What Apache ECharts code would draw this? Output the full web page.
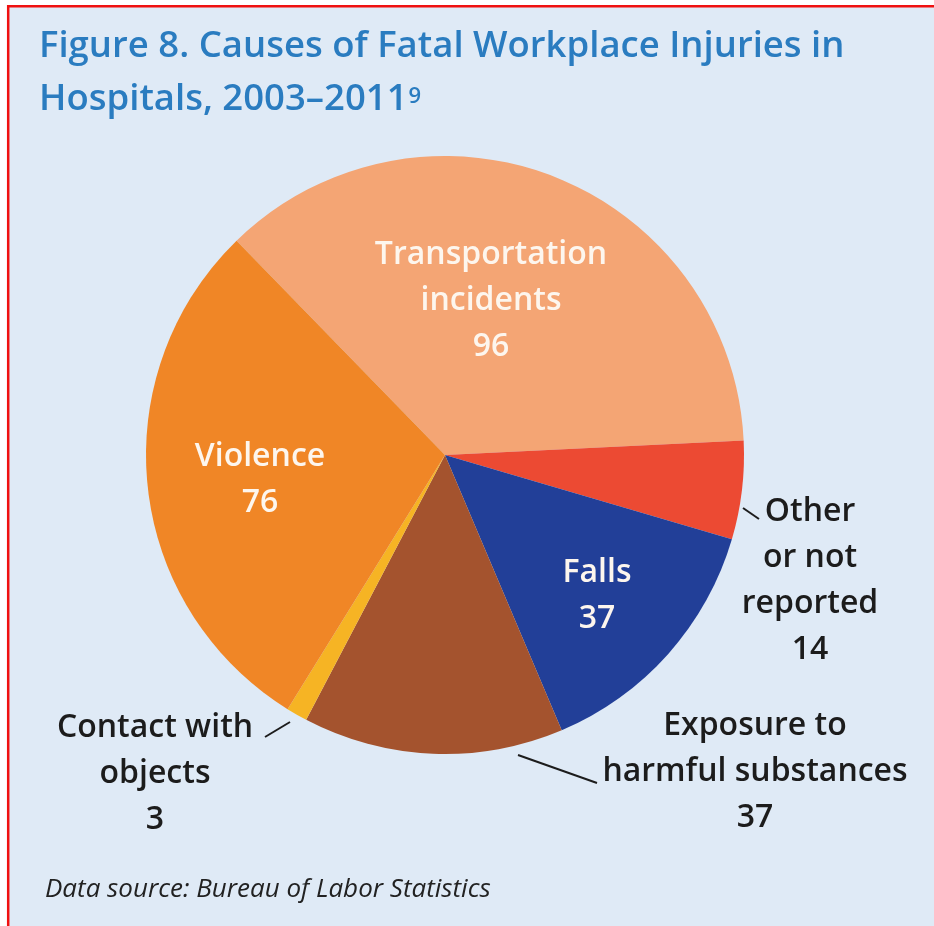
<!DOCTYPE html>
<html>
<head>
<meta charset="utf-8">
<script src="https://cdn.jsdelivr.net/npm/echarts@6/dist/echarts.min.js"></script>
<style>
  html, body { margin: 0; padding: 0; background: #ffffff; }
  #chart { width: 934px; height: 926px; }
</style>
</head>
<body>
<div id="chart"></div>
<script>
// Fatal workplace injuries in hospitals, 2003–2011, by cause (clockwise order)
const causes = [
  'Transportation incidents',
  'Other or not reported',
  'Falls',
  'Exposure to harmful substances',
  'Contact with objects',
  'Violence'
];
const fatalities = [96, 14, 37, 37, 3, 76];
const labelText = [
  'Transportation\nincidents',
  'Other\nor not\nreported',
  'Falls',
  'Exposure to\nharmful substances',
  'Contact with\nobjects',
  'Violence'
];
const sliceColors = ['#f4a574', '#ec4a33', '#223f98', '#a4532e', '#f6b424', '#f08626'];
const insideLabel = [true, false, true, false, false, true];

// label block centres and leader lines (page pixels)
const labelSpots = [
  { x: 491, y: 301 },
  { x: 810, y: 581, line: [[743, 508], [759, 519]] },
  { x: 597, y: 596 },
  { x: 755, y: 772, line: [[518, 755], [597, 783]] },
  { x: 155, y: 774, line: [[290, 722], [265, 737]] },
  { x: 260, y: 480 }
];

const FONT = '"Open Sans", "Noto Sans", sans-serif';

const chart = echarts.init(document.getElementById('chart'), null, { renderer: 'canvas' });

const seriesData = causes.map((name, i) => ({
  name: name,
  value: fatalities[i],
  itemStyle: { color: sliceColors[i] },
  label: {
    show: true,
    position: insideLabel[i] ? 'inside' : 'outside',
    formatter: labelText[i] + '\n' + fatalities[i],
    color: insideLabel[i] ? '#fdf6ee' : '#1c1c1c',
    fontFamily: FONT,
    fontWeight: 600,
    fontSize: 32,
    lineHeight: 46,
    align: 'center'
  },
  labelLine: {
    show: !insideLabel[i],
    smooth: false,
    lineStyle: { color: '#1c1c1c', width: 2 }
  }
}));

chart.setOption({
  backgroundColor: '#dfeaf6',
  animation: false,
  title: {
    left: 39,
    top: 20,
    padding: 0,
    text: 'Figure 8. Causes of Fatal Workplace Injuries in\nHospitals, 2003–2011{sup|9}',
    textStyle: {
      fontFamily: FONT,
      fontWeight: 600,
      fontSize: 36.5,
      lineHeight: 53,
      color: '#2a7cc0',
      rich: {
        sup: {
          fontFamily: FONT,
          fontWeight: 600,
          fontSize: 22,
          lineHeight: 22,
          padding: [13, 0, 0, 1],
          verticalAlign: 'top',
          color: '#2a7cc0'
        }
      }
    }
  },
  graphic: [
    { type: 'rect', silent: true, z: 100, shape: { x: 0, y: 0, width: 934, height: 5 }, style: { fill: '#ffffff' } },
    { type: 'rect', silent: true, z: 100, shape: { x: 0, y: 0, width: 7, height: 926 }, style: { fill: '#ffffff' } },
    { type: 'line', silent: true, z: 101, shape: { x1: 7, y1: 6.2, x2: 934, y2: 6.2 }, style: { stroke: '#f01010', lineWidth: 2.5 } },
    { type: 'line', silent: true, z: 101, shape: { x1: 8.2, y1: 5, x2: 8.2, y2: 926 }, style: { stroke: '#f01010', lineWidth: 2.5 } },
    {
      type: 'text',
      silent: true,
      z: 100,
      style: {
        text: 'Data source: Bureau of Labor Statistics',
        x: 45,
        y: 890,
        fill: '#222222',
        font: 'italic 400 26px ' + FONT,
        textAlign: 'left',
        textVerticalAlign: 'middle'
      }
    }
  ],
  series: [
    {
      type: 'pie',
      center: [445, 455],
      radius: [0, 299],
      startAngle: 134.2,
      clockwise: true,
      avoidLabelOverlap: false,
      silent: true,
      emphasis: { disabled: true },
      data: seriesData,
      labelLayout: function (params) {
        const spot = labelSpots[params.dataIndex];
        const out = {
          x: spot.x,
          y: spot.y,
          align: 'center',
          verticalAlign: 'middle',
          hideOverlap: false,
          moveOverlap: null
        };
        if (spot.line) {
          const a = spot.line[0], b = spot.line[1];
          out.labelLinePoints = [a, [(a[0] + b[0]) / 2, (a[1] + b[1]) / 2], b];
        }
        return out;
      }
    }
  ]
});
</script>
</body>
</html>
